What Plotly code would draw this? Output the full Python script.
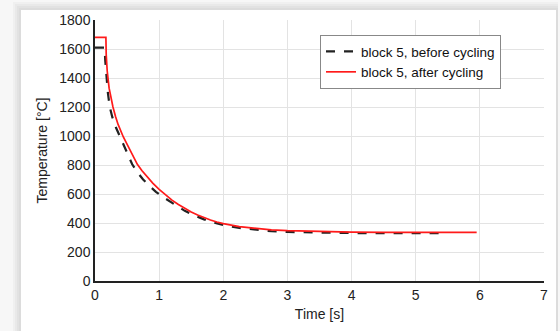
import plotly.graph_objects as go

# Time [s] and temperature [°C]
t_before = [0, 0.15, 0.16, 0.18, 0.2, 0.23, 0.27, 0.33, 0.39, 0.44, 0.48, 0.53, 0.58, 0.66,
            0.75, 0.85, 0.95, 1.05, 1.2, 1.3, 1.4, 1.5, 1.6, 1.7, 1.8, 1.9, 2.0, 2.25, 2.5,
            2.75, 3.0, 3.5, 4.0, 4.5, 5.0, 5.45]
T_before = [1610, 1610, 1520, 1400, 1300, 1200, 1130, 1055, 995, 945, 900, 850, 805, 750,
            700, 655, 615, 582, 538, 510, 484, 462, 442, 425, 410, 397, 386, 366, 352,
            343, 338, 333, 331, 330, 330, 330]

t_after = [0, 0.17, 0.175, 0.19, 0.22, 0.25, 0.28, 0.32, 0.36, 0.44, 0.5, 0.55, 0.6, 0.66,
           0.73, 0.8, 0.9, 1.0, 1.1, 1.2, 1.3, 1.4, 1.5, 1.6, 1.7, 1.8, 1.9, 2.0, 2.25, 2.5,
           2.75, 3.0, 3.5, 4.0, 4.5, 5.0, 5.5, 5.95]
T_after = [1680, 1680, 1560, 1450, 1330, 1260, 1200, 1135, 1080, 995, 942, 898, 852, 805,
           762, 725, 675, 632, 592, 558, 528, 500, 476, 455, 437, 421, 407, 396, 375, 361,
           352, 347, 340, 337, 336, 335, 335, 335]

x_ticks = [0, 1, 2, 3, 4, 5, 6, 7]
y_ticks = [0, 200, 400, 600, 800, 1000, 1200, 1400, 1600, 1800]

FONT = "Liberation Sans, Arial, sans-serif"

fig = go.Figure()
fig.add_trace(go.Scatter(x=t_before, y=T_before, mode="lines",
                         name="block 5, before cycling",
                         line=dict(color="#222222", width=2.2, dash="dash")))
fig.add_trace(go.Scatter(x=t_after, y=T_after, mode="lines",
                         name="block 5, after cycling",
                         line=dict(color="#ff1a1a", width=1.7)))

L, R, T, B = 95, 16, 20, 50
W, H = 560, 331
pw, ph = W - L - R, H - T - B


def px_x(p):
    return (p - L) / pw


def px_y(p):
    return (H - B - p) / ph


shapes = []
# shadow gradient around the card
for i, col in enumerate(["#f0f0f0", "#e9e9e9", "#e2e2e2", "#dcdcdc"]):
    off = 8 - 2 * i
    shapes.append(dict(type="rect", xref="paper", yref="paper",
                       x0=px_x(21 - off), x1=px_x(556 + min(off, 2)),
                       y0=px_y(340), y1=px_y(10 - off),
                       fillcolor=col, line=dict(width=0), layer="below"))
shapes.append(dict(type="rect", xref="paper", yref="paper",
                   x0=px_x(21), x1=px_x(556), y0=px_y(340), y1=px_y(10),
                   fillcolor="white", line=dict(width=0), layer="below"))

fig.update_layout(
    width=W, height=H,
    margin=dict(l=L, r=R, t=T, b=B),
    paper_bgcolor="#f7f7f7",
    plot_bgcolor="rgba(0,0,0,0)",
    font=dict(family=FONT, size=14, color="#222222"),
    shapes=shapes,
    showlegend=True,
    legend=dict(x=px_x(320), y=px_y(35), xanchor="left", yanchor="top",
                bgcolor="white", bordercolor="#888888", borderwidth=1,
                font=dict(family=FONT, size=13.5, color="#111111"),
                itemwidth=30, tracegroupgap=0),
    xaxis=dict(range=[0, 7], tickvals=x_ticks, showgrid=True, gridcolor="#e3e3e3",
               gridwidth=1, zeroline=False, showline=True, linecolor="#222222",
               linewidth=1.5, ticks="", tickfont=dict(size=14),
               title=dict(text="Time [s]", font=dict(size=14), standoff=8)),
    yaxis=dict(range=[0, 1800], tickvals=y_ticks, showgrid=True, gridcolor="#e3e3e3",
               gridwidth=1, zeroline=False, showline=True, linecolor="#222222",
               linewidth=1.5, ticks="", tickfont=dict(size=14),
               title=dict(text="Temperature [°C]", font=dict(size=14), standoff=8)),
)

fig.write_html("out.html")
